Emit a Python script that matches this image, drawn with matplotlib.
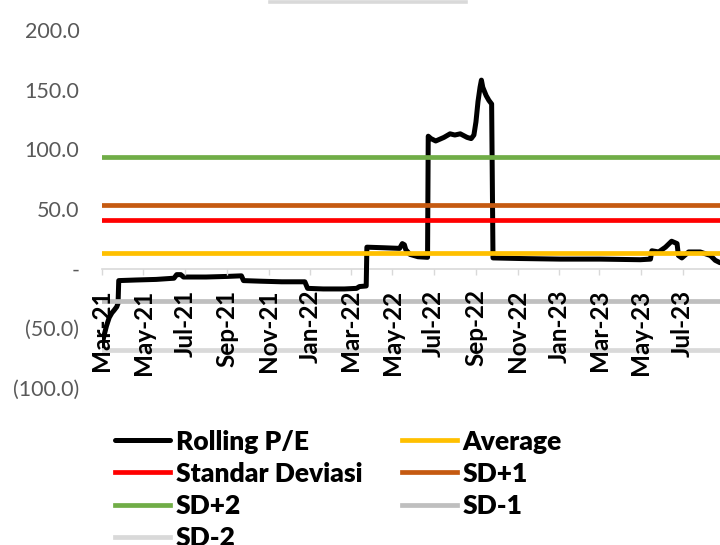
###### Rolling P/E band chart ######

import pandas as pd
import matplotlib
matplotlib.use('Agg')
from matplotlib import pyplot as plt
from matplotlib.lines import Line2D
import matplotlib.dates as mdates
from matplotlib.ticker import FuncFormatter

# ----------- DATA -------------------------------------- #
pe_dates = ['2021-03-01', '2021-03-04', '2021-03-08', '2021-03-12', '2021-03-16', '2021-03-19',
            '2021-03-23', '2021-03-25', '2021-03-26', '2021-04-20', '2021-05-20', '2021-06-15',
            '2021-06-19', '2021-06-25', '2021-06-29', '2021-08-01', '2021-09-01', '2021-09-22',
            '2021-09-25', '2021-10-20', '2021-11-20', '2021-12-24', '2021-12-28', '2022-01-20',
            '2022-02-20', '2022-03-10', '2022-03-14', '2022-03-24', '2022-03-25', '2022-04-20',
            '2022-05-12', '2022-05-16', '2022-05-19', '2022-05-21', '2022-05-27', '2022-06-08',
            '2022-06-22', '2022-06-23', '2022-06-27', '2022-07-04', '2022-07-16', '2022-07-25',
            '2022-08-01', '2022-08-09', '2022-08-19', '2022-08-25', '2022-08-29', '2022-09-01',
            '2022-09-04', '2022-09-07', '2022-09-09', '2022-09-11', '2022-09-16', '2022-09-20',
            '2022-09-24', '2022-09-26', '2022-11-05', '2023-01-03', '2023-03-02', '2023-04-30',
            '2023-05-15', '2023-05-17', '2023-05-27', '2023-06-06', '2023-06-15', '2023-06-23',
            '2023-06-25', '2023-06-30', '2023-07-10', '2023-07-27', '2023-08-11', '2023-08-18',
            '2023-08-25']
pe_values = [-66, -57, -48, -41, -37, -35,
             -32, -29, -10, -9.5, -9, -8,
             -5, -5, -7, -7, -6.5, -6,
             -10, -10.5, -11, -11, -16.5, -17,
             -17, -16.5, -15, -14.5, 18, 17.5,
             17, 21, 20, 16, 12, 10,
             9.5, 111, 109, 107, 110, 113,
             112, 113, 110, 109, 112, 123,
             140, 152, 158, 152, 145, 141,
             138, 9, 8.5, 8, 8, 7.5,
             8, 15, 14, 18, 23, 21,
             11, 9, 14, 14, 11, 7,
             5]

average = 12.9
std_dev = 41.0
sd_plus1 = 53.2
sd_plus2 = 93.6
sd_minus1 = -27.4
sd_minus2 = -68.4

band_names = ['Average', 'Standar Deviasi', 'SD+1', 'SD+2', 'SD-1', 'SD-2']
band_values = [average, std_dev, sd_plus1, sd_plus2, sd_minus1, sd_minus2]
band_colors = ['#FFC000', '#FF0000', '#C55A11', '#70AD47', '#BFBFBF', '#D9D9D9']

x_start = '2021-03-01'
x_end = '2023-08-25'

# ----- PLOT ----- #
plt.rcParams['font.family'] = ['Lato', 'DejaVu Sans']

fig = plt.figure(figsize=(7.2, 5.45), dpi=100)
ax = fig.add_axes([101.7 / 720, 1 - 388 / 545, 1 - 101.7 / 720, (388 - 30) / 545])

dates = pd.to_datetime(pe_dates)
handles = {}
h, = ax.plot(dates, pe_values, color='black', lw=3.6, solid_joinstyle='round',
             solid_capstyle='round', zorder=2.0, label='Rolling P/E')
handles['Rolling P/E'] = h
for name, val, col in zip(band_names, band_values, band_colors):
    h = ax.axhline(val, color=col, lw=3.4, zorder=2.2, label=name)
    handles[name] = h

ax.set_xlim(pd.Timestamp(x_start), pd.Timestamp(x_end))
ax.set_ylim(-100, 200)
ax.set_yticks(range(-100, 201, 50))


def acct(v, pos):
    if v == 0:
        return '-'
    if v < 0:
        return '({:.1f})'.format(-v)
    return '{:.1f}'.format(v)


ax.yaxis.set_major_formatter(FuncFormatter(acct))
ax.tick_params(axis='y', length=0, pad=16, labelsize=15.5, labelcolor='#595959')

ax.xaxis.set_major_locator(mdates.MonthLocator(bymonth=(1, 3, 5, 7, 9, 11)))
ax.xaxis.set_major_formatter(mdates.DateFormatter('%b-%y'))
ax.tick_params(axis='x', direction='out', length=4.5, width=1, color='#D9D9D9',
               pad=10.5, labelsize=17.5, labelrotation=90)
ax.xaxis.set_zorder(5)

for s in ['top', 'right', 'left']:
    ax.spines[s].set_visible(False)
ax.spines['bottom'].set_position(('data', 0))
ax.spines['bottom'].set_color('#D9D9D9')
ax.spines['bottom'].set_linewidth(1.2)
ax.spines['bottom'].set_zorder(1)

order = ['Rolling P/E', 'Standar Deviasi', 'SD+2', 'SD-2', 'Average', 'SD+1', 'SD-1']
leg = fig.legend([handles[k] for k in order], order, loc='upper left',
                 bbox_to_anchor=(115 / 720, 1 - 429.5 / 545), ncol=2, frameon=False,
                 prop={'weight': 'heavy', 'size': 19}, handlelength=2.1,
                 handletextpad=0.2, columnspacing=1.5, labelspacing=0.31,
                 borderpad=0, borderaxespad=0)

fig.canvas.draw()
for lab in ax.get_xticklabels():
    lab.set_fontweight('bold')

# stray bar at the very top of the picture
fig.add_artist(Line2D([270 / 720, 466 / 720], [1 - 1.5 / 545, 1 - 1.5 / 545],
                      color='#D9D9D9', lw=2.6))

plt.savefig('out.png', dpi=100)
